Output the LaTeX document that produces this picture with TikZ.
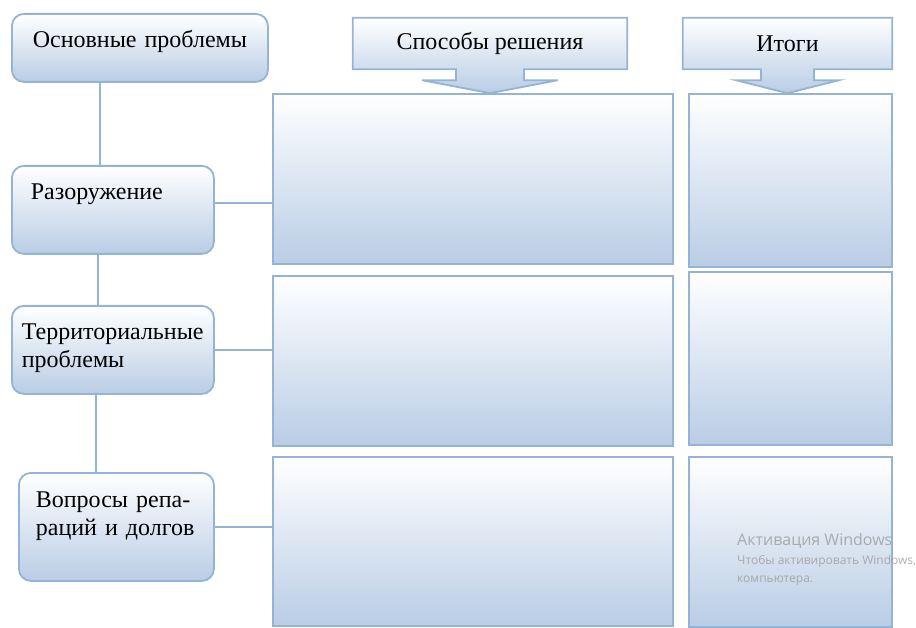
\documentclass[tikz,border=0pt]{standalone}
\usepackage{fontspec}
\setmainfont{Liberation Serif}
\newfontfamily\wmfont{Open Sans}
\usetikzlibrary{positioning,calc,backgrounds}
\definecolor{edgeblue}{HTML}{95B3D7}
\definecolor{fillblue}{HTML}{B9CDE5}
\definecolor{wmgrey}{HTML}{9C9C9C}

\begin{document}
\begin{tikzpicture}[x=1pt,y=-1pt,
  every node/.style={font=\fontsize{24}{28}\selectfont},
  problem/.style={draw=edgeblue,line width=1.8pt,rounded corners=12pt,
    top color=white,bottom color=fillblue,anchor=north west,
    inner xsep=0pt,align=center,text height=16pt},
  cell/.style={draw=edgeblue,line width=1.8pt,top color=white,
    bottom color=fillblue,anchor=north west,inner sep=0pt},
  head/.style={inner sep=0pt,minimum height=51pt},
  callout/.style={draw=edgeblue,line width=1.8pt,top color=white,
    bottom color=fillblue},
  link/.style={draw=edgeblue,line width=1.8pt},
  watermark/.style={font=\wmfont\fontsize{#1}{#1}\selectfont,text=wmgrey,
    text opacity=0.8,anchor=base west,inner sep=0pt}]
  \useasboundingbox (0,0) rectangle (916,628);

  % problems
  \node[problem,text width=256pt,minimum height=68pt,text depth=17pt]
    (p0) at (11,13) {Основные проблемы};
  \node[problem,text width=164pt,inner xsep=19pt,align=left,
    minimum height=88pt,text depth=36pt]
    (p1) at (11,165) {Разоружение};
  \node[problem,text width=182pt,inner xsep=10pt,align=left,
    minimum height=88pt,text depth=36pt]
    (p2) at (11,305) {Территориальные\\проблемы};
  \node[problem,text width=161pt,inner xsep=17pt,align=left,
    minimum height=108pt,text depth=54pt]
    (p3) at (18,472) {Вопросы репа-\\раций и долгов};

  % solutions and results
  \node[cell,minimum width=400pt,minimum height=170pt] (s1) at (272,93) {};
  \node[cell,minimum width=400pt,minimum height=170pt] (s2) at (272,275) {};
  \node[cell,minimum width=400pt,minimum height=169pt] (s3) at (272,456) {};
  \node[cell,minimum width=203pt,minimum height=173pt] (r1) at (688,93) {};
  \node[cell,minimum width=203pt,minimum height=173pt] (r2) at (688,271) {};
  \node[cell,minimum width=203pt,minimum height=170pt] (r3) at (688,456) {};

  % headers
  \node[head,minimum width=274pt] (h1) at (490,43.5) {Способы решения};
  \node[head,minimum width=209pt] (h2) at (787.5,43.5) {Итоги};
  \begin{scope}[on background layer]
    \path[callout] (h1.north west) -- (h1.north east) -- (h1.south east)
      -- ($(h1.south)+(34,0)$) -- ++(0,11) -- ++(34,0) -- ($(h1.south)+(0,24)$)
      -- ($(h1.south)+(-68,11)$) -- ++(34,0) -- ++(0,-11) -- (h1.south west) -- cycle;
    \path[callout] (h2.north west) -- (h2.north east) -- (h2.south east)
      -- ($(h2.south)+(26.5,0)$) -- ++(0,11) -- ++(25,0) -- ($(h2.south)+(0,24)$)
      -- ($(h2.south)+(-51.5,11)$) -- ++(25,0) -- ++(0,-11) -- (h2.south west) -- cycle;
  \end{scope}

  % links
  \coordinate (v1) at (100,0);
  \coordinate (v2) at (98,0);
  \coordinate (v3) at (96,0);
  \draw[link] (p0.south -| v1) -- (p1.north -| v1);
  \draw[link] (p1.south -| v2) -- (p2.north -| v2);
  \draw[link] (p2.south -| v3) -- (p3.north -| v3);
  \coordinate (j1) at ([yshift=7pt]p1.east);
  \draw[link] (j1) -- (j1 -| s1.west);
  \draw[link] (p2.east) -- (p2.east -| s2.west);
  \draw[link] (p3.east) -- (p3.east -| s3.west);

  % watermark
  \node[watermark=16] (w1) at (737,545) {Активация Windows};
  \node[watermark=12] (w2) at (737,564) {Чтобы активировать Windows,};
  \node[watermark=12] (w3) at (737,582) {компьютера.};
\end{tikzpicture}
\end{document}
